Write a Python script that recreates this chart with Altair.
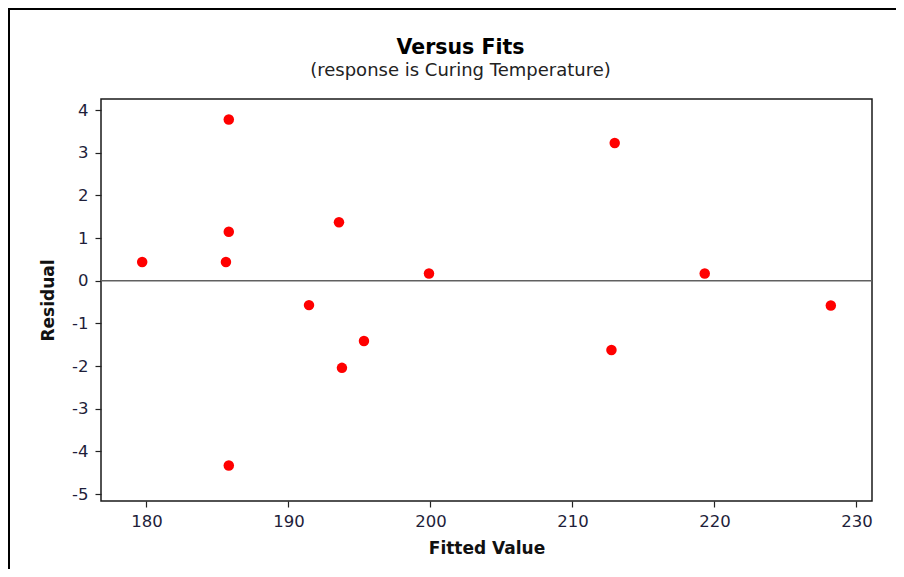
import altair as alt
import pandas as pd

fitted = [179.7, 185.6, 185.8, 185.8, 185.8, 191.45, 193.56, 193.77, 195.32, 199.9, 212.98, 212.75, 219.32, 228.2]
residual = [0.44, 0.44, 3.78, 1.15, -4.33, -0.57, 1.37, -2.04, -1.41, 0.17, 3.23, -1.62, 0.17, -0.58]
x_ticks = [180, 190, 200, 210, 220, 230]
y_ticks = [-5, -4, -3, -2, -1, 0, 1, 2, 3, 4]
ref_line = [0]

df = pd.DataFrame({"fitted": fitted, "residual": residual})

FONT = "DejaVu Sans"
xscale = alt.Scale(domain=[176.8, 231.1], nice=False, zero=False)
yscale = alt.Scale(domain=[-5.16, 4.26], nice=False, zero=False)

xaxis = alt.Axis(values=x_ticks, title="Fitted Value", titleFont=FONT, titleFontSize=17,
                 titleFontWeight="bold", titleColor="#111", titleY=52, titleBaseline="alphabetic",
                 labelFont=FONT, labelFontSize=16.5, labelColor="#1e1e3a", labelPadding=6,
                 labelExpr="'' + datum.value",
                 tickColor="#222", tickSize=6, tickWidth=1.2, domain=False, grid=False)
yaxis = alt.Axis(values=y_ticks, title="Residual", titleFont=FONT, titleFontSize=17,
                 titleFontWeight="bold", titleColor="#111", titleX=-48, titleY=201,
                 titleBaseline="alphabetic", titleAlign="center", titleAngle=270,
                 labelFont=FONT, labelFontSize=16.5, labelColor="#1e1e3a", labelPadding=7,
                 labelExpr="'' + datum.value",
                 tickColor="#222", tickSize=6, tickWidth=1.2, domain=False, grid=False)

points = alt.Chart(df).mark_circle(color="#ff0000", size=110, opacity=1).encode(
    x=alt.X("fitted:Q", scale=xscale, axis=xaxis),
    y=alt.Y("residual:Q", scale=yscale, axis=yaxis),
)

zero = alt.Chart(pd.DataFrame({"y": ref_line})).mark_rule(color="#606060", strokeWidth=1.5).encode(
    y=alt.Y("y:Q", scale=yscale)
)

frame = alt.Chart(pd.DataFrame({"a": [0]})).mark_rect(
    fillOpacity=0, stroke="black", strokeWidth=2
).encode(x=alt.value(-92), x2=alt.value(900), y=alt.value(-90), y2=alt.value(700))

chart = alt.layer(frame, zero, points).properties(
    width=771, height=402,
    autosize=alt.AutoSizeParams(type="none"),
    padding={"left": 93, "top": 91, "right": 24, "bottom": 68},
    background="white",
    title=alt.Title("Versus Fits", subtitle="(response is Curing Temperature)",
                    font=FONT, fontSize=20.5, fontWeight="bold", color="#000",
                    subtitleFont=FONT, subtitleFontSize=18, subtitleColor="#222",
                    anchor="middle", frame="group", dx=-26, dy=91, offset=19, subtitlePadding=4),
).configure_view(stroke="#1a1a1a", strokeWidth=1.5)

chart.save("out.html", embed_options={"renderer": "svg", "actions": False})
